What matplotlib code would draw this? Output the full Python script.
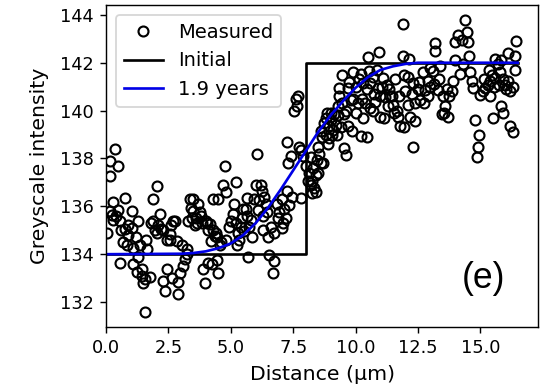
import matplotlib
matplotlib.use('Agg')
import matplotlib.pyplot as plt

# measured profile points (distance um, greyscale)
measured = [
    (0.03, 134.9), (0.16, 137.26), (0.16, 137.9), (0.36, 138.4), (0.49, 137.7),
    (0.3, 136.2), (0.16, 135.8), (0.25, 135.65), (0.29, 135.45), (0.49, 135.85),
    (0.56, 135.4), (0.6, 135.0), (0.56, 133.65), (0.75, 136.35), (0.76, 135.05),
    (0.83, 134.4), (0.9, 134.8), (0.9, 135.2), (1.03, 135.8), (1.03, 135.1),
    (1.1, 134.27), (1.1, 133.6), (1.23, 133.24), (1.3, 135.4), (1.3, 133.9),
    (1.36, 134.4), (1.43, 133.1), (1.5, 132.8), (1.56, 132.95), (1.56, 131.57),
    (1.6, 134.6), (1.65, 134.2), (1.76, 133.03), (1.8, 135.3), (1.9, 136.3),
    (1.9, 135.4), (1.96, 135.0), (2.03, 136.85), (2.05, 134.9), (2.1, 135.2),
    (2.16, 135.67), (2.2, 135.05), (2.3, 135.0), (2.3, 132.9), (2.36, 132.45),
    (2.43, 133.4), (2.45, 134.6), (2.56, 134.6), (2.63, 133.0), (2.7, 135.4),
    (2.76, 135.4), (2.83, 134.55), (2.9, 132.85), (2.9, 132.33), (2.96, 133.2),
    (3.03, 134.4), (3.09, 133.5), (3.16, 133.8), (3.23, 134.0), (3.25, 134.2),
    (3.3, 135.4), (3.36, 136.3), (3.4, 135.95), (3.5, 135.8), (3.5, 136.3),
    (3.55, 135.2), (3.6, 135.5), (3.7, 136.1), (3.75, 135.75), (3.85, 135.3),
    (3.9, 133.4), (3.95, 132.8), (4.0, 135.4), (4.05, 135.3), (4.1, 135.0),
    (4.1, 133.65), (4.2, 134.55), (4.25, 133.6), (4.3, 136.3), (4.3, 135.0),
    (4.4, 134.9), (4.45, 134.7), (4.45, 133.75), (4.5, 133.2), (4.5, 136.3),
    (4.6, 134.5), (4.7, 136.9), (4.77, 137.7), (4.8, 136.6), (4.8, 134.6),
    (4.95, 135.15), (5.0, 135.4), (5.1, 135.7), (5.15, 136.1), (5.2, 137.0),
    (5.2, 135.3), (5.25, 134.4), (5.3, 134.9), (5.35, 134.6), (5.4, 135.15),
    (5.5, 135.9), (5.55, 134.95), (5.65, 135.6), (5.66, 136.35), (5.7, 133.9),
    (5.75, 135.15), (5.8, 135.45), (5.85, 134.7), (5.94, 136.3), (6.0, 136.9),
    (6.04, 138.2), (6.1, 135.85), (6.2, 136.9), (6.25, 136.65), (6.3, 135.6),
    (6.3, 135.0), (6.4, 136.1), (6.45, 135.75), (6.5, 134.7), (6.55, 133.95),
    (6.6, 135.15), (6.7, 133.2), (6.75, 133.7), (6.75, 134.9), (6.85, 136.1),
    (6.95, 135.75), (7.05, 136.3), (7.05, 135.1), (7.1, 135.3), (7.2, 135.5),
    (7.25, 136.65), (7.25, 138.7), (7.3, 137.8), (7.35, 136.05), (7.4, 138.1),
    (7.45, 136.4), (7.55, 140.0), (7.6, 140.5), (7.65, 140.2), (7.7, 140.6),
    (7.75, 138.5), (7.8, 138.35), (7.8, 136.35), (7.9, 138.1),
    (8.0, 137.7), (8.1, 137.05), (8.15, 137.4), (8.2, 138.05), (8.2, 136.9),
    (8.25, 137.05), (8.25, 136.55), (8.35, 136.75), (8.4, 136.6), (8.4, 137.3),
    (8.45, 137.95), (8.5, 137.4), (8.5, 138.5), (8.6, 137.8), (8.6, 139.15),
    (8.65, 138.9), (8.7, 137.8), (8.75, 139.5), (8.8, 139.7), (8.8, 139.0),
    (8.85, 139.9), (8.95, 138.85), (8.95, 139.35), (9.0, 139.6), (9.05, 139.0),
    (9.1, 139.2), (9.15, 139.85), (9.2, 139.4), (9.3, 140.2), (9.3, 139.8),
    (9.35, 140.95), (9.35, 140.6), (9.4, 139.3), (9.44, 141.5), (9.55, 139.85),
    (9.55, 138.45), (9.6, 138.15), (9.7, 139.35), (9.7, 140.95), (9.8, 140.45),
    (9.85, 139.15), (9.9, 141.6), (9.9, 140.5), (10.0, 141.0), (10.0, 139.9),
    (10.2, 141.55), (10.2, 138.95), (10.25, 140.5), (10.3, 141.15), (10.3, 139.7),
    (10.45, 138.9), (10.45, 140.9), (10.5, 142.26), (10.55, 141.65), (10.6, 140.1),
    (10.6, 141.15), (10.75, 140.7), (10.8, 140.35), (10.85, 141.7), (10.9, 140.95),
    (10.95, 142.43), (11.0, 139.75), (11.0, 140.6), (11.1, 141.36), (11.15, 139.7),
    (11.2, 140.55), (11.3, 140.2), (11.35, 140.9), (11.4, 140.6), (11.5, 140.25),
    (11.6, 141.3), (11.65, 140.0), (11.7, 139.75), (11.8, 139.35), (11.89, 143.63),
    (11.9, 142.3), (11.95, 139.3), (11.95, 141.5), (12.1, 141.4), (12.1, 140.25),
    (12.15, 142.15), (12.2, 139.75), (12.25, 140.7), (12.3, 138.5), (12.3, 141.15),
    (12.4, 139.55), (12.5, 140.9), (12.6, 140.45), (12.7, 141.6), (12.75, 140.3),
    (12.8, 140.85), (12.9, 141.25), (13.0, 141.8), (13.0, 141.0), (13.1, 141.65),
    (13.18, 142.82), (13.2, 142.5), (13.3, 140.85), (13.4, 141.85), (13.45, 139.85),
    (13.5, 140.6), (13.55, 139.9), (13.6, 140.2), (13.7, 139.75), (13.75, 140.6),
    (13.85, 140.8), (13.9, 141.25), (14.0, 142.1), (14.0, 142.85), (14.12, 143.17),
    (14.27, 142.95), (14.3, 141.95), (14.38, 143.8), (14.45, 143.3), (14.5, 142.85),
    (14.55, 142.3), (14.6, 141.6), (14.65, 141.25), (14.7, 140.95), (14.8, 139.6),
    (14.85, 138.05), (14.9, 138.5), (14.95, 139.0), (15.0, 140.65), (15.1, 140.8),
    (15.2, 140.95), (15.35, 141.7), (15.4, 141.25), (15.4, 140.6), (15.45, 141.5),
    (15.5, 139.7), (15.6, 142.15), (15.6, 141.35), (15.7, 141.95), (15.8, 141.6),
    (15.85, 142.1), (15.85, 140.2), (15.9, 139.9), (15.9, 141.3), (16.0, 141.05),
    (16.1, 142.4), (16.1, 141.25), (16.2, 140.8), (16.2, 139.35), (16.3, 141.0),
    (16.3, 139.1), (16.4, 141.7), (16.4, 142.3), (16.45, 142.9),
    # denser parts of the cloud
    (0.4, 135.6), (0.7, 134.5), (1.2, 134.7), (1.45, 133.4), (2.55, 134.85),
    (2.6, 135.2), (3.45, 135.5), (3.65, 135.3), (3.8, 135.6), (4.15, 135.25),
    (4.35, 134.75), (4.55, 134.4), (5.45, 135.5), (5.6, 135.9), (6.15, 136.25),
    (6.35, 136.4), (6.9, 135.5), (7.15, 135.9), (8.3, 137.6), (8.55, 138.2),
    (8.9, 138.6), (9.0, 139.9), (9.25, 139.0), (9.45, 140.3), (9.6, 140.0),
    (9.75, 141.2), (10.1, 140.3), (10.15, 141.3), (10.4, 140.3), (10.7, 141.4),
    (10.7, 140.0), (11.05, 141.0), (11.25, 141.05), (11.45, 140.6), (11.55, 139.9),
    (11.75, 140.6), (12.0, 140.8), (12.4, 140.3), (12.55, 141.2), (12.9, 140.6),
    (13.15, 141.1), (13.35, 141.3), (13.65, 140.9), (14.2, 141.55), (15.15, 141.3),
    (15.3, 141.05), (15.55, 141.0), (15.75, 141.05), (16.05, 140.9),
]
measured_x = [p[0] for p in measured]
measured_y = [p[1] for p in measured]

# initial step profile
initial_x = [0.0, 8.0, 8.0, 16.5]
initial_y = [134.0, 134.0, 142.0, 142.0]

# fitted profile after 1.9 years
fit_x = [0.0, 3.0, 3.5, 4.0, 4.5, 5.0, 5.5, 6.0, 6.5, 7.0, 7.5, 8.0, 8.5,
         9.0, 9.5, 10.0, 10.5, 11.0, 11.5, 12.0, 12.5, 13.0, 16.5]
fit_y = [134.0, 134.02, 134.05, 134.12, 134.25, 134.45, 134.8, 135.3, 135.95,
         136.7, 137.5, 138.3, 139.1, 139.8, 140.4, 140.95, 141.4, 141.7,
         141.85, 141.95, 142.0, 142.0, 142.0]

fig = plt.figure(figsize=(546 / 128, 392 / 128), dpi=128)
ax = fig.add_subplot(111)
fig.subplots_adjust(left=0.1941, right=0.9859, bottom=0.1658, top=0.9872)

ax.plot(measured_x, measured_y, 'o', ls='none', mfc='none', mec='black',
        ms=5.6, mew=1.2, label='Measured')
ax.plot(initial_x, initial_y, color='black', lw=1.5, label='Initial')
ax.plot(fit_x, fit_y, color='#0000e6', lw=1.5, label='1.9 years')

ax.set_xlim(left=0)
ax.set_xlabel('Distance (\u00b5m)', fontsize=11.5)
ax.set_ylabel('Greyscale intensity', fontsize=11.5, labelpad=6)
ax.legend(loc='upper left', fontsize=11)
ax.text(0.873, 0.15, '(e)', transform=ax.transAxes, fontsize=20,
        family='Liberation Sans', ha='center', va='center')

fig.savefig('out.png', dpi=128)
